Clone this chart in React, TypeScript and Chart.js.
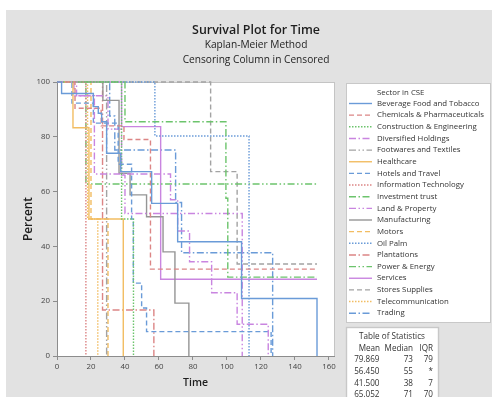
import React, { useEffect, useRef } from 'react';
import { Chart, registerables } from 'chart.js';
Chart.register(...registerables);

const FAM = '"Open Sans", "Noto Sans", sans-serif';

const titleMain = 'Survival Plot for Time';
const titleSub1 = 'Kaplan-Meier Method';
const titleSub2 = 'Censoring Column in Censored';
const xTitle = 'Time';
const yTitle = 'Percent';
const legendTitle = 'Sector in CSE';

const xTicks = [0, 20, 40, 60, 80, 100, 120, 140, 160];
const yTicks = [0, 20, 40, 60, 80, 100];

const sectors = [
  'Beverage Food and Tobacco',
  'Chemicals & Pharmaceuticals',
  'Construction & Engineering',
  'Diversified Holdings',
  'Footwares and Textiles',
  'Healthcare',
  'Hotels and Travel',
  'Information Technology',
  'Investment trust',
  'Land & Property',
  'Manufacturing',
  'Motors',
  'Oil Palm',
  'Plantations',
  'Power & Energy',
  'Services',
  'Stores Supplies',
  'Telecommunication',
  'Trading',
];

// Kaplan-Meier step data: times and survival percent (value after the step)
const bevT = [0, 2.7, 21.4, 24.3, 26.3, 29.2, 37.5, 55.7, 71, 108.6, 153];
const bevS = [100, 95.8, 91, 88.6, 85.5, 74, 67.3, 55.7, 41.7, 21, 0];
const chemT = [0, 10.6, 26, 39.4, 55, 153];
const chemS = [100, 90.4, 84, 79, 31.7, 31.7];
const consT = [0, 38, 45];
const consS = [100, 50, 0];
const divT = [0, 11.5, 22, 66.8, 71, 78, 91, 106, 124.3];
const divS = [100, 95, 66.4, 57, 45.6, 34.4, 23.1, 11.6, 0];
const footT = [0, 29.2];
const footS = [100, 0];
const healT = [0, 9.4, 18.8, 39];
const healS = [100, 83.3, 50, 0];
const hotT = [0, 8.8, 21.4, 36, 43.9, 44.9, 49.8, 52.7, 126];
const hotS = [100, 92.3, 85, 70, 50, 26.6, 17.5, 8.9, 0];
const itT = [0, 17];
const itS = [100, 0];
const invT = [0, 40, 99.4, 100.5, 153];
const invS = [100, 85.5, 57.6, 28.8, 28.8];
const landT = [0, 10, 30, 38, 40, 109];
const landS = [100, 95, 82.8, 66, 52, 0];
const manT = [0, 27, 36.5, 43, 52.7, 62.4, 69.4, 77.6];
const manS = [100, 93.3, 66.7, 58.8, 50.8, 38, 19.3, 0];
const motT = [0, 20, 30];
const motS = [100, 50, 0];
const oilT = [0, 57.6, 113];
const oilS = [100, 80.3, 0];
const plaT = [0, 26.8, 57];
const plaS = [100, 16.8, 0];
const powT = [0, 17, 153];
const powS = [100, 62.8, 62.8];
const serT = [0, 38, 61, 153];
const serS = [100, 83.7, 28, 28];
const stoT = [0, 90.4, 106, 153];
const stoS = [100, 67.3, 33.6, 33.6];
const telT = [0, 18, 24];
const telS = [100, 50, 0];
const traT = [0, 31, 34, 69.8, 73.3, 126.9];
const traS = [100, 87.6, 75.2, 56, 37.7, 0];

const seriesTimes = [bevT, chemT, consT, divT, footT, healT, hotT, itT, invT, landT, manT, motT, oilT, plaT, powT, serT, stoT, telT, traT];
const seriesSurv = [bevS, chemS, consS, divS, footS, healS, hotS, itS, invS, landS, manS, motS, oilS, plaS, powS, serS, stoS, telS, traS];

const statMean = ['79.869', '56.450', '41.500', '65.052'];
const statMedian = ['73', '55', '38', '71'];
const statIQR = ['79', '*', '7', '70'];

const colorCycle = ['#6a9bd8', '#dc8585', '#6cc46c', '#c985e0', '#a3a3a3', '#f2bd62'];
const dashCycle: number[][] = [[], [5, 3], [1.5, 1.5], [7, 2.5, 1.5, 2.5], [7, 2.5, 1.5, 2.5, 1.5, 2.5]];

function fitSize(ctx: CanvasRenderingContext2D, text: string, weight: string, target: number) {
  ctx.font = `${weight} 10px ${FAM}`;
  const w = ctx.measureText(text).width;
  return (10 * target) / w;
}

export default function App() {
  const ref = useRef<HTMLCanvasElement | null>(null);

  useEffect(() => {
    const canvas = ref.current!;
    const mctx = document.createElement('canvas').getContext('2d')!;
    const tickSize = fitSize(mctx, '100', 'normal', 13.5);

    const datasets = sectors.map((name, i) => ({
      label: name,
      data: seriesTimes[i].map((t, k) => ({ x: t, y: seriesSurv[i][k] })),
      borderColor: i === 10 ? '#959595' : colorCycle[i % 6],
      borderDash: dashCycle[i % 5],
      borderWidth: 1.4,
      pointRadius: 0,
      stepped: 'before' as const,
      fill: false,
      clip: 4,
    }));

    const decor = {
      id: 'decor',
      beforeDraw(chart: any) {
        const c = chart.ctx as CanvasRenderingContext2D;
        const a = chart.chartArea;
        c.save();
        c.fillStyle = '#ffffff';
        c.fillRect(0, 0, chart.width, chart.height);
        c.fillStyle = '#e2e2e2';
        c.fillRect(6, 10, chart.width - 6, chart.height - 10);
        c.fillStyle = '#ffffff';
        c.fillRect(a.left, a.top, a.right - a.left, a.bottom - a.top);
        c.strokeStyle = '#c4c4c4';
        c.lineWidth = 1;
        c.strokeRect(a.left + 0.5, a.top + 0.5, a.right - a.left, a.bottom - a.top);
        c.restore();
      },
      afterDraw(chart: any) {
        const c = chart.ctx as CanvasRenderingContext2D;
        const a = chart.chartArea;
        c.save();
        c.textBaseline = 'middle';
        // titles
        const tMain = fitSize(c, titleMain, '600', 128);
        const tSub = fitSize(c, titleSub2, 'normal', 147);
        c.fillStyle = '#1e1e1e';
        c.textAlign = 'center';
        c.font = `600 ${tMain}px ${FAM}`;
        c.fillText(titleMain, 256, 30);
        c.font = `normal ${tSub}px ${FAM}`;
        c.fillText(titleSub1, 256, 45);
        c.fillText(titleSub2, 256, 60);
        // axis titles
        const tx = fitSize(c, xTitle, '600', 25);
        c.font = `600 ${tx}px ${FAM}`;
        c.fillText(xTitle, (a.left + a.right) / 2, 383);
        const ty = fitSize(c, yTitle, '600', 44);
        c.font = `600 ${ty}px ${FAM}`;
        c.translate(29, (a.top + a.bottom) / 2);
        c.rotate(-Math.PI / 2);
        c.fillText(yTitle, 0, 0);
        c.setTransform(1, 0, 0, 1, 0, 0);
        // legend box
        c.fillStyle = '#ffffff';
        c.fillRect(346, 83, 144, 239);
        c.strokeStyle = '#c8c8c8';
        c.strokeRect(346.5, 83.5, 144, 239);
        const ls = fitSize(c, sectors[1], 'normal', 107);
        c.font = `normal ${ls}px ${FAM}`;
        c.fillStyle = '#333333';
        c.textAlign = 'left';
        c.fillText(legendTitle, 377, 93);
        sectors.forEach((name, i) => {
          const y = 103.5 + i * 11.65;
          c.strokeStyle = i === 10 ? '#959595' : colorCycle[i % 6];
          c.lineWidth = 1.4;
          c.setLineDash(dashCycle[i % 5]);
          c.beginPath();
          c.moveTo(349, y);
          c.lineTo(372, y);
          c.stroke();
          c.setLineDash([]);
          c.fillStyle = '#333333';
          c.fillText(name, 377, y);
        });
        // stats box
        c.fillStyle = '#ffffff';
        c.fillRect(346, 327, 92, 75);
        c.strokeStyle = '#c8c8c8';
        c.strokeRect(346.5, 327.5, 92, 75);
        const ss = fitSize(c, 'Table of Statistics', 'normal', 66);
        c.font = `normal ${ss}px ${FAM}`;
        c.fillStyle = '#333333';
        c.textAlign = 'center';
        c.fillText('Table of Statistics', 392, 337);
        c.textAlign = 'right';
        c.fillText('Mean', 380, 348.5);
        c.fillText('Median', 413, 348.5);
        c.fillText('IQR', 433, 348.5);
        statMean.forEach((m, i) => {
          const y = 360 + i * 11.7;
          c.fillText(m, 379.5, y);
          c.fillText(statMedian[i], 413, y);
          c.fillText(statIQR[i], 433, y);
        });
        c.restore();
      },
    };

    const chart = new Chart(canvas, {
      type: 'line',
      data: { datasets: datasets as any },
      options: {
        responsive: false,
        animation: false,
        devicePixelRatio: 1,
        layout: { padding: { left: 0, top: 82, right: 158, bottom: 0 } },
        plugins: { legend: { display: false }, tooltip: { enabled: false }, title: { display: false } },
        scales: {
          x: {
            type: 'linear',
            min: 0,
            max: 163,
            afterBuildTicks: (s: any) => { s.ticks = xTicks.map((v) => ({ value: v })); },
            afterFit: (s: any) => { s.height = 41; },
            grid: { drawOnChartArea: false, drawTicks: true, tickLength: 4, color: '#8c8c8c' },
            border: { color: '#8c8c8c', width: 1 },
            ticks: { font: { family: FAM, size: tickSize }, color: '#444444', padding: 2, maxRotation: 0, autoSkip: false },
          },
          y: {
            type: 'linear',
            min: 0,
            max: 100,
            afterBuildTicks: (s: any) => { s.ticks = yTicks.map((v) => ({ value: v })); },
            afterFit: (s: any) => { s.width = 57; },
            grid: { drawOnChartArea: false, drawTicks: true, tickLength: 4, color: '#8c8c8c' },
            border: { color: '#8c8c8c', width: 1 },
            ticks: { font: { family: FAM, size: tickSize }, color: '#444444', padding: 3, autoSkip: false },
          },
        },
      },
      plugins: [decor],
    });
    return () => chart.destroy();
  }, []);

  return (
    <div style={{ position: 'absolute', left: 0, top: 0, width: 492, height: 397 }}>
      <canvas ref={ref} width={492} height={397} style={{ display: 'block' }} />
    </div>
  );
}
